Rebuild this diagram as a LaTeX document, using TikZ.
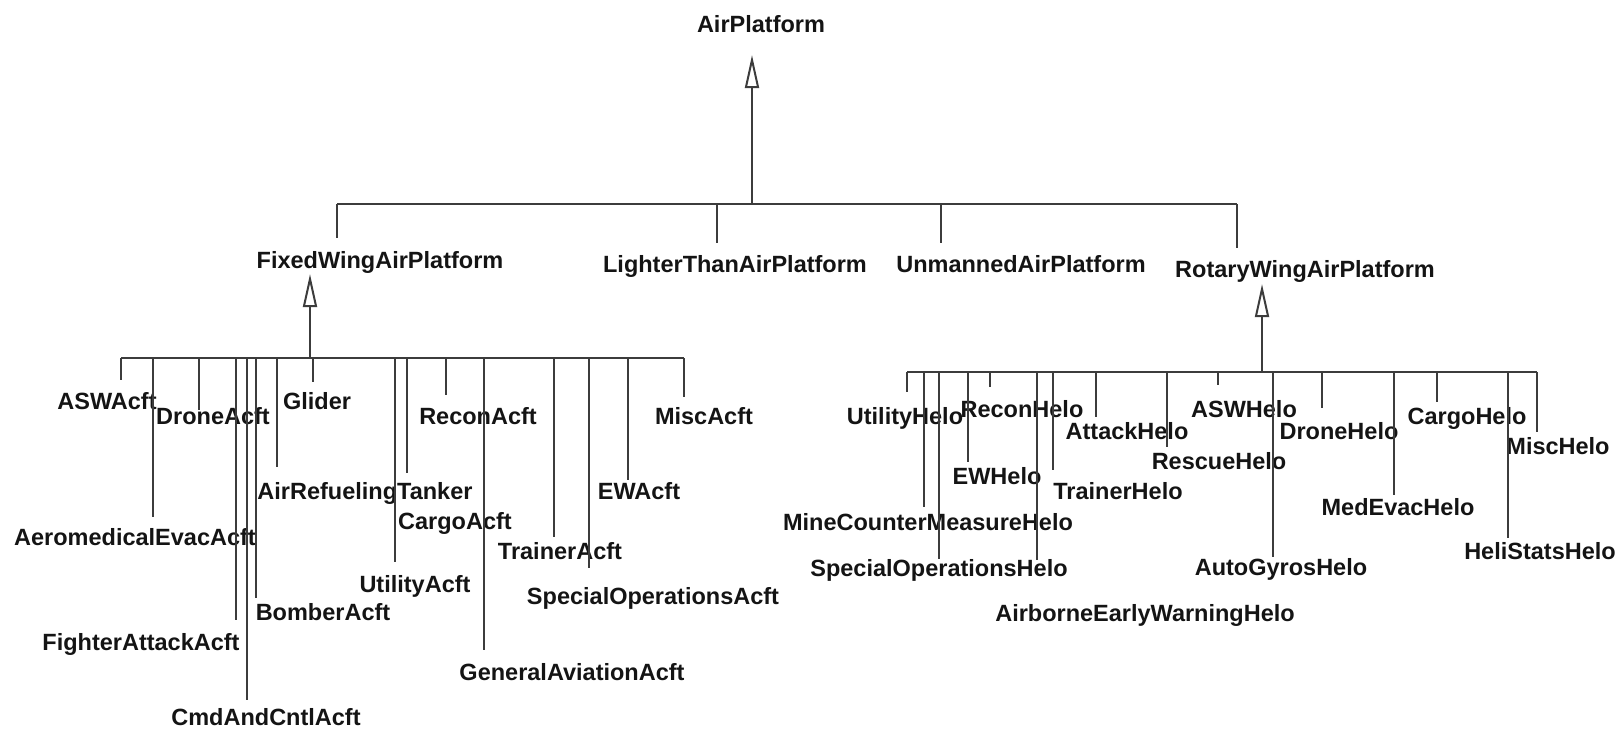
\documentclass[tikz,border=0pt]{standalone}
\usepackage{fontspec}
\setmainfont{Liberation Sans}
\usetikzlibrary{arrows.meta}
\definecolor{inkline}{HTML}{3C3C3C}
\definecolor{inktext}{HTML}{141414}
\begin{document}
\begin{tikzpicture}[x=0.5pt,y=-0.5pt,
  lbl/.style={inner sep=0pt, text=inktext, text height=0.72em, text depth=0pt,
    font=\fontsize{11.75}{14}\selectfont\bfseries},
  conn/.style={draw=inkline, line width=1pt},
  inh/.style={conn, -{Triangle[open, fill=white, length=16.5pt, width=7pt]}}]
\useasboundingbox (0,0) rectangle (1622,734);

% ---- class labels ----
\node[lbl] (ap)  at (761,25)  {AirPlatform};
\node[lbl] (fw)  at (380,261) {FixedWingAirPlatform};
\node[lbl] (lta) at (735,265) {LighterThanAirPlatform};
\node[lbl] (ua)  at (1021,265) {UnmannedAirPlatform};
\node[lbl] (rw)  at (1305,270) {RotaryWingAirPlatform};

% fixed-wing subclasses
\foreach \nm/\x/\y/\t in {
  asw/107/402/ASWAcft, drone/213/417/DroneAcft, glider/317/402/Glider,
  recon/478/417/ReconAcft, misc/704/417/MiscAcft,
  tanker/365/492/AirRefuelingTanker, ewa/639/492/EWAcft,
  cargo/455/522/CargoAcft, medevac/135/538/AeromedicalEvacAcft,
  trainer/560/552/TrainerAcft, utility/415/585/UtilityAcft,
  specops/653/597/SpecialOperationsAcft, bomber/323/613/BomberAcft,
  fighter/141/643/FighterAttackAcft, genav/572/673/GeneralAviationAcft,
  cmd/266/718/CmdAndCntlAcft}
  \node[lbl] (\nm) at (\x,\y) {\t};

% rotary-wing subclasses
\foreach \nm/\x/\y/\t in {
  hutil/905/417/UtilityHelo, hrecon/1022/410/ReconHelo,
  hasw/1244/410/ASWHelo, hattack/1127/432/AttackHelo,
  hdrone/1339/432/DroneHelo, hcargo/1467/417/CargoHelo,
  hmisc/1558/447/MiscHelo, hrescue/1219/462/RescueHelo,
  hew/997/477/EWHelo, htrainer/1118/492/TrainerHelo,
  hmedevac/1398/508/MedEvacHelo, hmcm/928/523/MineCounterMeasureHelo,
  hspecops/939/569/SpecialOperationsHelo, hgyro/1281/568/AutoGyrosHelo,
  hstats/1540/552/HeliStatsHelo, haew/1145/614/AirborneEarlyWarningHelo}
  \node[lbl] (\nm) at (\x,\y) {\t};

% ---- top level hierarchy ----
\coordinate (topL) at (337,204);
\coordinate (topR) at (1237,204);
\coordinate (topJ) at (752,204);
\draw[conn] (topL) -- (topR);
\draw[inh, shorten >=11.25pt] (topJ) -- (ap.south -| topJ);
\foreach \x/\e in {337/238, 717/243, 941/243, 1237/248}{
  \coordinate (tb\x) at (\x,204);
  \coordinate (te\x) at (\x,\e);
  \draw[conn] (tb\x) -- (te\x);
}

% ---- fixed-wing branch ----
\coordinate (fwL) at (121,358);
\coordinate (fwR) at (684,358);
\coordinate (fwJ) at (310,358);
\draw[conn] (fwL) -- (fwR);
\draw[inh, shorten >=2.75pt] (fwJ) -- (fw.south -| fwJ);
\foreach \x/\e in {121/380, 153/517, 199/410, 236/620, 247/700, 256/598,
                   277/467, 313/382, 395/562, 407/473, 446/395, 484/650,
                   554/537, 589/568, 628/480, 684/397}{
  \coordinate (fb\x) at (\x,358);
  \coordinate (fe\x) at (\x,\e);
  \draw[conn] (fb\x) -- (fe\x);
}

% ---- rotary-wing branch ----
\coordinate (rwL) at (907,372);
\coordinate (rwR) at (1537,372);
\coordinate (rwJ) at (1262,372);
\draw[conn] (rwL) -- (rwR);
\draw[inh, shorten >=3.25pt] (rwJ) -- (rw.south -| rwJ);
\foreach \x/\e in {907/392, 924/507, 939/559, 968/462, 990/387, 1037/560,
                   1053/470, 1096/417, 1167/447, 1218/385, 1273/557, 1322/408,
                   1394/495, 1437/402, 1508/538, 1537/432}{
  \coordinate (rb\x) at (\x,372);
  \coordinate (re\x) at (\x,\e);
  \draw[conn] (rb\x) -- (re\x);
}
\end{tikzpicture}
\end{document}
